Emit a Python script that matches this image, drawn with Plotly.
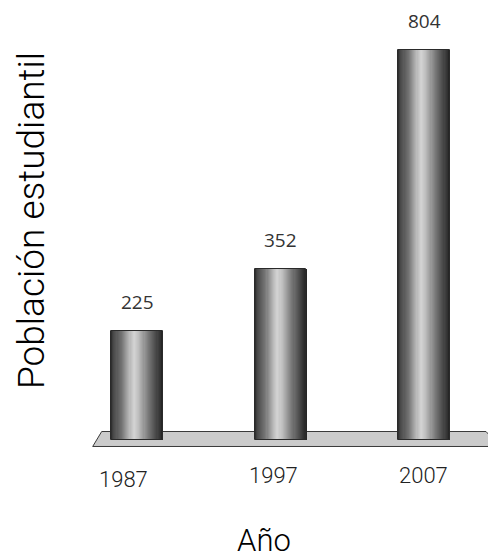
import plotly.graph_objects as go

# ---- data ----
years = [1987, 1997, 2007]
values = [225, 352, 804]
tick_labels = ["1987", "1997", "2007"]
x_title = "Año"
y_title = "Población estudiantil"

# ---- style ----
W, H = 488, 560
FONT_MAIN = "Roboto, Liberation Sans, sans-serif"
FONT_LABEL = "Open Sans, Liberation Sans, sans-serif"
TEXT_COL = "#222222"
bar_width = 3.62  # in years
n_slices = 48
# horizontal shading profile of the cylinders (position, gray level)
shade = [(0.0, 40), (0.04, 70), (0.2, 115), (0.36, 185), (0.44, 212),
         (0.53, 190), (0.72, 120), (0.88, 70), (0.96, 45), (1.0, 35)]

# pixel mapping: plot area == whole figure
px_per_unit = 390 / 804.0
base_px = 440
y_range = [(base_px - H) / px_per_unit, base_px / px_per_unit]
px_per_year = 14.35
x0_px = 137
x_range = [years[0] - x0_px / px_per_year, years[0] + (W - x0_px) / px_per_year]

tick_dx = [-14, -7, -1]
tick_dy = [-39, -35, -35]


def gray_at(t):
    for (p0, g0), (p1, g1) in zip(shade[:-1], shade[1:]):
        if p0 <= t <= p1:
            g = g0 + (g1 - g0) * (t - p0) / (p1 - p0)
            g = int(round(g))
            return f"rgb({g},{g},{g})"
    g = shade[-1][1]
    return f"rgb({g},{g},{g})"


fig = go.Figure()

# floor (decoration) in paper coordinates from pixel positions
def pp(x, y):
    return f"{x / W:.5f},{1 - y / H:.5f}"

floor_path = "M " + " L ".join([pp(101.7, 431.5), pp(486, 431.5), pp(500, 446.5), pp(92.7, 446.5)]) + " Z"
fig.add_shape(type="path", xref="paper", yref="paper", path=floor_path,
              fillcolor="#cbcbcb", line=dict(color="#3a3a3a", width=1), layer="below")

# shaded cylinders: overlapping slices, each covering from its start to the right edge
for i in range(n_slices):
    t = (i + 0.5) / n_slices
    start = -bar_width / 2 + i * bar_width / n_slices
    fig.add_trace(go.Bar(
        x=years, y=values,
        width=[bar_width - i * bar_width / n_slices] * len(years),
        offset=[start] * len(years),
        marker=dict(color=gray_at(t), line=dict(width=0)),
        hoverinfo="skip", showlegend=False,
    ))

# outline
fig.add_trace(go.Bar(
    x=years, y=values, width=[bar_width] * len(years),
    marker=dict(color="rgba(0,0,0,0)", line=dict(color="#2a2a2a", width=1)),
    hovertemplate="%{x}: %{y}<extra></extra>", showlegend=False,
))

# value labels
for x, v in zip(years, values):
    fig.add_annotation(x=x, y=v, text=str(v), showarrow=False, yanchor="bottom",
                       yshift=14, font=dict(family=FONT_LABEL, size=19, color="#333333", weight=400))

# category labels
for x, lab, dx, dy in zip(years, tick_labels, tick_dx, tick_dy):
    fig.add_annotation(x=x, y=0, text=lab, showarrow=False, xanchor="center", yanchor="middle",
                       xshift=dx, yshift=dy,
                       font=dict(family=FONT_MAIN, size=22, color=TEXT_COL, weight=300))

# axis titles
fig.add_annotation(xref="paper", yref="paper", x=264 / W, y=1 - 540 / H, text=x_title,
                   showarrow=False, xanchor="center", yanchor="middle",
                   font=dict(family=FONT_MAIN, size=31, color="#000000", weight=300))
fig.add_annotation(xref="paper", yref="paper", x=32 / W, y=1 - 221 / H, text=y_title,
                   textangle=-90, showarrow=False, xanchor="center", yanchor="middle",
                   font=dict(family=FONT_MAIN, size=37, color="#000000", weight=300))

fig.update_layout(
    width=W, height=H, barmode="overlay", bargap=0,
    margin=dict(l=0, r=0, t=0, b=0),
    paper_bgcolor="white", plot_bgcolor="white",
    xaxis=dict(range=x_range, visible=False, fixedrange=True),
    yaxis=dict(range=y_range, visible=False, fixedrange=True),
)

fig.write_html("out.html", config={"displayModeBar": False},
               post_script="document.body.style.margin='0px';")
